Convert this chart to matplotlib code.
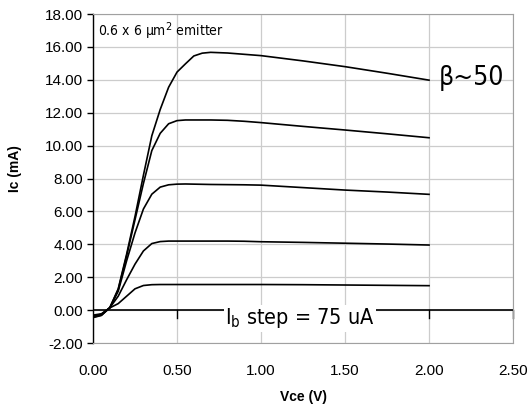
import matplotlib
matplotlib.use('Agg')
import matplotlib.pyplot as plt
from matplotlib import font_manager

# collector voltage sweep (V), shared by every curve
vce = [0.0, 0.05, 0.1, 0.15, 0.2, 0.25, 0.3, 0.35, 0.4, 0.45, 0.5, 0.55, 0.6, 0.65,
       0.7, 0.8, 0.9, 1.0, 1.25, 1.5, 1.75, 2.0]

# collector current (mA) for each base current step
ic_step1 = [-0.30, -0.22, 0.14, 0.40, 0.85, 1.30, 1.50, 1.55, 1.56, 1.56, 1.56, 1.56, 1.56, 1.56,
            1.56, 1.56, 1.56, 1.56, 1.55, 1.53, 1.51, 1.49]
ic_step2 = [-0.35, -0.25, 0.15, 0.85, 1.85, 2.80, 3.60, 4.05, 4.17, 4.20, 4.20, 4.20, 4.20, 4.20,
            4.20, 4.20, 4.19, 4.16, 4.12, 4.07, 4.02, 3.96]
ic_step3 = [-0.40, -0.27, 0.15, 1.15, 3.00, 4.70, 6.15, 7.05, 7.48, 7.62, 7.66, 7.67, 7.66, 7.65,
            7.64, 7.63, 7.62, 7.60, 7.45, 7.30, 7.18, 7.04]
ic_step4 = [-0.42, -0.30, 0.15, 1.25, 3.30, 5.50, 7.70, 9.70, 10.75, 11.33, 11.52, 11.56, 11.56, 11.56,
            11.56, 11.54, 11.48, 11.40, 11.17, 10.95, 10.72, 10.48]
ic_step5 = [-0.45, -0.32, 0.15, 1.30, 3.40, 5.70, 8.20, 10.60, 12.20, 13.55, 14.47, 14.97, 15.45, 15.62,
            15.67, 15.63, 15.55, 15.47, 15.15, 14.80, 14.40, 13.98]
curves = [ic_step1, ic_step2, ic_step3, ic_step4, ic_step5]

x_ticks = [0.0, 0.5, 1.0, 1.5, 2.0, 2.5]
y_ticks = [-2, 0, 2, 4, 6, 8, 10, 12, 14, 16, 18]

# pick a narrow face for the annotations if one is around
narrow_kw = {'family': ['Liberation Sans', 'DejaVu Sans']}
for f in font_manager.fontManager.ttflist:
    if f.name == 'Liberation Sans Narrow':
        narrow_kw = {'family': ['Liberation Sans Narrow', 'DejaVu Sans']}
        break
else:
    for f in font_manager.fontManager.ttflist:
        if f.name == 'DejaVu Sans' and f.stretch == 'condensed':
            narrow_kw = {'family': ['DejaVu Sans'], 'stretch': 'condensed'}
            break

plt.rcParams['font.family'] = ['Liberation Sans', 'DejaVu Sans']

fig = plt.figure(figsize=(5.3, 4.07), dpi=100)
ax = fig.add_axes([0.1755, 0.157, 0.968 - 0.1755, 0.9656 - 0.157])

ax.set_xlim(0, 2.5)
ax.set_ylim(-2, 18)
ax.set_xticks(x_ticks)
ax.set_yticks(y_ticks)
ax.set_xticklabels([f'{t:.2f}' for t in x_ticks], fontsize=11)
ax.set_yticklabels([f'{t:.2f}' for t in y_ticks], fontsize=11)
ax.grid(True, color='#cccccc', lw=0.9)
ax.set_axisbelow(True)

for side in ['top', 'right', 'bottom']:
    ax.spines[side].set_color('#a0a0a0')
ax.spines['left'].set_color('black')
ax.spines['left'].set_linewidth(1.0)
ax.tick_params(axis='y', direction='out', length=4, width=1, color='black', pad=3)
ax.tick_params(axis='x', length=0, pad=15)

# horizontal axis crossing at Ic = 0 with its tick marks
ax.axhline(0, color='black', lw=1.2, zorder=2)
for t in x_ticks[1:]:
    ax.plot([t, t], [0, -0.45], color='black', lw=1, zorder=2, clip_on=False)

for ic in curves:
    ax.plot(vce, ic, color='black', lw=1.2, zorder=3)

ax.set_xlabel('Vce (V)', fontsize=10, fontweight='bold', labelpad=9)
ax.set_ylabel('Ic (mA)', fontsize=10, fontweight='bold')
ax.yaxis.set_label_coords(-0.17, 0.53)

ax.text(0.03, 16.95, '0.6 x 6 μm$^2$ emitter', fontsize=10, ha='left', va='center', **narrow_kw)
ax.text(2.06, 14.1, 'β~50', fontsize=19, ha='left', va='center', **narrow_kw)
ax.text(1.23, -0.5, 'I$_\\mathregular{b}$ step = 75 uA', fontsize=15.5, ha='center', va='center',
        zorder=4, bbox=dict(facecolor='white', edgecolor='none', pad=1), **narrow_kw)

fig.savefig('out.png', dpi=100)
